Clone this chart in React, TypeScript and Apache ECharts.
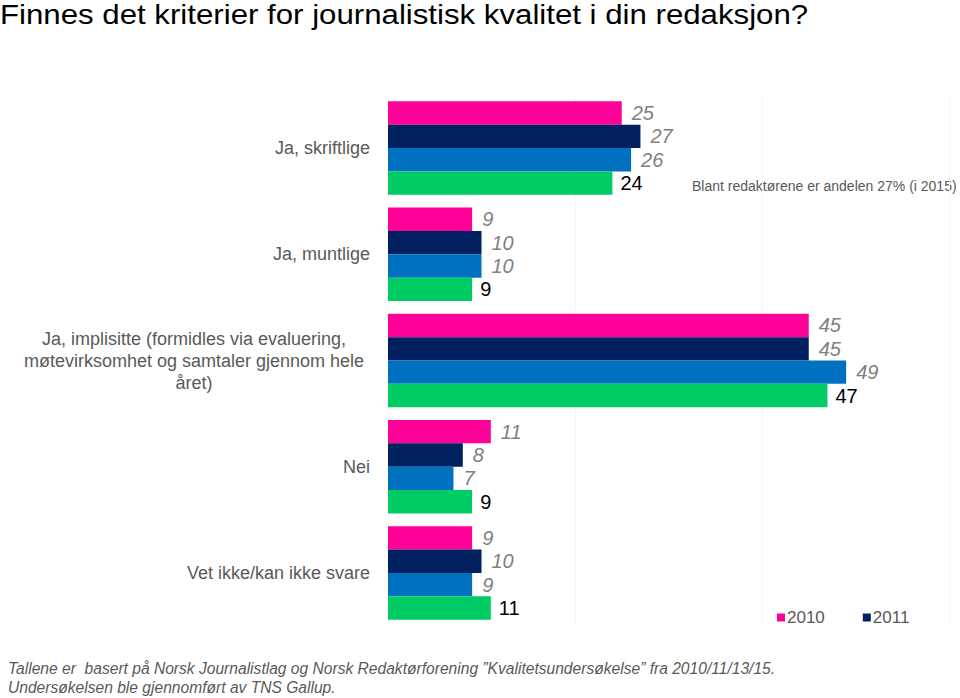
import React, { useEffect, useRef } from "react";
import * as echarts from "echarts";

const categories = [
  "Ja, skriftlige",
  "Ja, muntlige",
  "Ja, implisitte (formidles via evaluering,\nmøtevirksomhet og samtaler gjennom hele\nåret)",
  "Nei",
  "Vet ikke/kan ikke svare",
];
const seriesNames = ["2010", "2011", "2013", "2015"];
const values2010 = [25, 9, 45, 11, 9];
const values2011 = [27, 10, 45, 8, 10];
const values2013 = [26, 10, 49, 7, 9];
const values2015 = [24, 9, 47, 9, 11];
const colors = ["#FF0099", "#002060", "#0070C0", "#00CC66"];
const legendItems = ["2010", "2011"];
const titleText = "Finnes det kriterier for journalistisk kvalitet i din redaksjon?";
const noteText = "Blant redaktørene er andelen 27% (i 2015)";
const footLines = [
  "Tallene er  basert på Norsk Journalistlag og Norsk Redaktørforening ”Kvalitetsundersøkelse” fra 2010/11/13/15.",
  "Undersøkelsen ble gjennomført av TNS Gallup.",
];

export default function App() {
  const ref = useRef<HTMLDivElement>(null);
  useEffect(() => {
    if (!ref.current) return;
    const chart = echarts.init(ref.current, undefined, { renderer: "svg" });
    const allValues = [values2010, values2011, values2013, values2015];
    const series = allValues.map((vals, i) => {
      const last = i === 3;
      return {
        name: seriesNames[i],
        type: "bar",
        data: vals,
        barGap: "0%",
        barCategoryGap: "12%",
        itemStyle: { color: colors[i] },
        label: {
          show: true,
          position: "right",
          distance: last ? 8 : 10,
          fontFamily: "Liberation Sans, Arial, sans-serif",
          fontSize: 20,
          fontStyle: last ? "normal" : "italic",
          color: last ? "#000000" : "#7f7f7f",
        },
      };
    });
    chart.setOption({
      animation: false,
      backgroundColor: "#ffffff",
      textStyle: { fontFamily: "Liberation Sans, Arial, sans-serif" },
      legend: {
        data: legendItems,
        left: 772,
        top: 604,
        icon: "rect",
        itemWidth: 8,
        itemHeight: 8,
        itemGap: 38,
        textStyle: { fontSize: 17, color: "#595959", padding: [0, 0, 0, -3] },
      },
      grid: { left: 388, right: 11, top: 95, bottom: 72, containLabel: false },
      xAxis: {
        type: "value",
        min: 0,
        max: 60,
        interval: 20,
        axisLabel: { show: false },
        axisLine: { show: false },
        axisTick: { show: false },
        splitLine: { show: true, lineStyle: { color: "#f6f6f6", width: 1 } },
      },
      yAxis: {
        type: "category",
        data: categories,
        inverse: true,
        axisLine: { show: false },
        axisTick: { show: false },
        axisLabel: {
          margin: 18,
          align: "right",
          color: "#595959",
          fontSize: 18,
          formatter: (v: string) => {
            if (v.indexOf("\n") >= 0) {
              return v
                .split("\n")
                .map((l) => "{c|" + l + "}")
                .join("\n");
            }
            return "{r|" + v + "}";
          },
          rich: {
            c: { width: 352, align: "center", fontSize: 18, color: "#595959", lineHeight: 22 },
            r: { align: "right", fontSize: 18, color: "#595959" },
          },
        },
      },
      graphic: [
        {
          type: "text",
          x: 0,
          y: 0,
          scaleX: 1.135,
          style: {
            text: titleText,
            fontSize: 27.5,
            fill: "#000000",
            fontFamily: "Liberation Sans, Arial, sans-serif",
          },
        },
        {
          type: "text",
          left: 692,
          top: 179,
          style: { text: noteText, fontSize: 14, fill: "#595959", fontFamily: "Liberation Sans, Arial, sans-serif" },
        },
        {
          type: "text",
          left: 8,
          top: 659,
          style: {
            text: footLines.join("\n"),
            fontSize: 15.6,
            lineHeight: 19,
            fontStyle: "italic",
            fill: "#595959",
            fontFamily: "Liberation Sans, Arial, sans-serif",
          },
        },
      ],
      series,
    });
    return () => chart.dispose();
  }, []);
  return <div ref={ref} style={{ width: 960, height: 698, position: "absolute", left: 0, top: 0 }} />;
}
